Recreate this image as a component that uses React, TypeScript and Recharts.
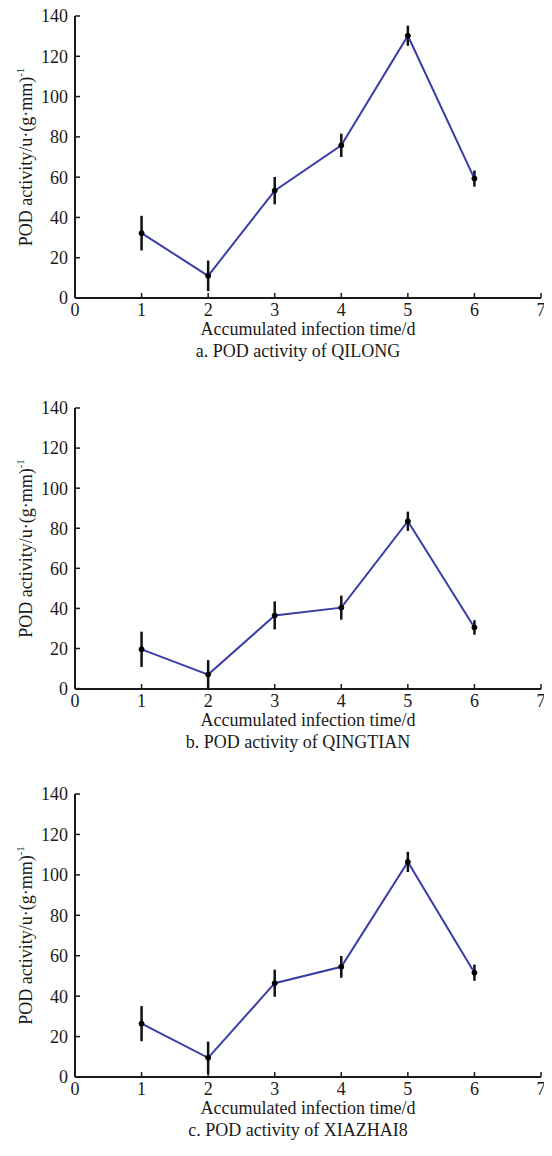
import React from 'react';
import { LineChart, Line, XAxis, YAxis, ErrorBar } from 'recharts';

const days = [1, 2, 3, 4, 5, 6];
const xTicks = [0, 1, 2, 3, 4, 5, 6, 7];
const yTicks = [0, 20, 40, 60, 80, 100, 120, 140];

const qilongMean = [32.2, 11.0, 53.3, 75.8, 130.2, 59.3];
const qilongErr = [8.6, 7.6, 6.8, 5.8, 5.0, 4.0];
const qingtianMean = [19.6, 7.0, 36.5, 40.4, 83.5, 30.5];
const qingtianErr = [8.8, 7.2, 7.0, 6.0, 4.8, 3.6];
const xiazhaiMean = [26.4, 9.5, 46.4, 54.5, 106.4, 51.6];
const xiazhaiErr = [8.7, 8.0, 6.7, 5.4, 5.0, 4.0];

const captions = [
  'a. POD activity of QILONG',
  'b. POD activity of QINGTIAN',
  'c. POD activity of XIAZHAI8',
];
const xTitle = 'Accumulated infection time/d';
const yTitle = 'POD activity/u·(g·mm)';
const ySup = '-1';

const FONT = 'Liberation Serif, Times New Roman, serif';
const LINE_COLOR = '#3a3da8';
const INK = '#1a1a1a';

const build = (means: number[], errs: number[]) =>
  days.map((d, i) => ({ day: d, value: means[i], err: errs[i] }));

const panels = [
  { data: build(qilongMean, qilongErr), caption: captions[0], top: 0, plotH: 282 },
  { data: build(qingtianMean, qingtianErr), caption: captions[1], top: 392, plotH: 281 },
  { data: build(xiazhaiMean, xiazhaiErr), caption: captions[2], top: 778, plotH: 283 },
];

const MARGIN_TOP = 16;
const XAXIS_H = 84;

function Panel({ data, caption, top, plotH }: any) {
  const h = MARGIN_TOP + plotH + XAXIS_H;
  const yLabel = (props: any) => {
    const vb = props.viewBox || {};
    const cy = (vb.y ?? MARGIN_TOP) + (vb.height ?? plotH) / 2;
    const cx = 32;
    return (
      <text
        x={cx}
        y={cy}
        transform={`rotate(-90, ${cx}, ${cy})`}
        textAnchor="middle"
        fontFamily={FONT}
        fontSize={18}
        fill={INK}
      >
        {yTitle}
        <tspan dy={-8} fontSize={11}>{ySup}</tspan>
      </text>
    );
  };
  const xLabel = (props: any) => {
    const vb = props.viewBox || {};
    const cx = (vb.x ?? 75) + (vb.width ?? 466) / 2;
    const y0 = vb.y ?? MARGIN_TOP + plotH;
    return (
      <g>
        <text x={cx} y={y0 + 37} textAnchor="middle" fontFamily={FONT} fontSize={18} fill={INK}>
          {xTitle}
        </text>
        <text x={cx - 10} y={y0 + 59} textAnchor="middle" fontFamily={FONT} fontSize={18} fill={INK}>
          {caption}
        </text>
      </g>
    );
  };
  return (
    <div style={{ position: 'absolute', left: 0, top }}>
      <LineChart
        width={552}
        height={h}
        data={data}
        margin={{ top: MARGIN_TOP, right: 11, left: 15, bottom: 0 }}
      >
        <XAxis
          dataKey="day"
          type="number"
          domain={[0, 7]}
          ticks={xTicks}
          interval={0}
          height={XAXIS_H}
          tickSize={-5}
          tickMargin={10}
          axisLine={{ stroke: INK, strokeWidth: 2 }}
          tickLine={{ stroke: INK, strokeWidth: 1.5 }}
          tick={{ fontFamily: FONT, fontSize: 18, fill: INK }}
          label={xLabel}
        />
        <YAxis
          type="number"
          domain={[0, 140]}
          ticks={yTicks}
          interval={0}
          width={60}
          tickSize={-5}
          tickMargin={12}
          axisLine={{ stroke: INK, strokeWidth: 2 }}
          tickLine={{ stroke: INK, strokeWidth: 1.5 }}
          tick={{ fontFamily: FONT, fontSize: 18, fill: INK }}
          label={yLabel}
        />
        <Line
          type="linear"
          dataKey="value"
          stroke={LINE_COLOR}
          strokeWidth={2}
          dot={{ r: 2.5, fill: '#000', stroke: '#000', strokeWidth: 1 }}
          activeDot={false}
          isAnimationActive={false}
        >
          <ErrorBar dataKey="err" direction="y" width={0} stroke="#111" strokeWidth={2.5} isAnimationActive={false} />
        </Line>
      </LineChart>
    </div>
  );
}

export default function App() {
  return (
    <div style={{ position: 'relative', width: 552, height: 1156, margin: -8, background: '#fff', overflow: 'hidden' }}>
      <style>{`.recharts-surface{overflow:visible}`}</style>
      {panels.map((p, i) => (
        <Panel key={i} {...p} />
      ))}
    </div>
  );
}
